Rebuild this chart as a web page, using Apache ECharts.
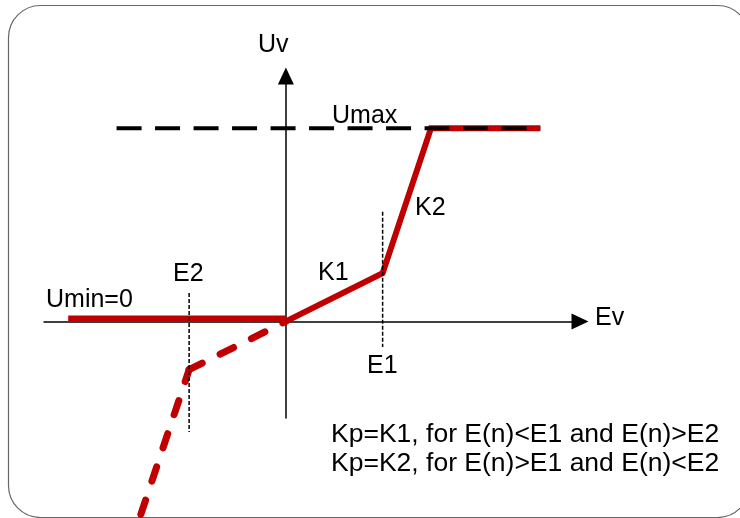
<!DOCTYPE html>
<html>
<head>
<meta charset="utf-8">
<script src="https://cdn.jsdelivr.net/npm/echarts@6/dist/echarts.min.js"></script>
<style>
  html, body { margin: 0; padding: 0; background: #fff; }
  #chart { width: 740px; height: 518px; }
</style>
</head>
<body>
<div id="chart"></div>
<script>
  // curve points, x in Ev units (E1 = 2), y in Uv units
  var uminLine = [[-4.5, 0.06], [0, 0.06]];
  var kLine = [[0, 0], [2, 1], [3, 4], [5.26, 4]];
  var extLine1 = [[0, 0], [-2, -1]];
  var extLine2 = [[-2, -1], [-3, -4]];
  var umaxLine = [[-3.5, 4], [5.26, 4]];
  var e1Line = [[2, 2.27], [2, -0.53]];
  var e2Line = [[-2, 0.59], [-2, -2.29]];

  var labels = ['Uv', 'Umax', 'K2', 'K1', 'E2', 'Umin=0', 'Ev', 'E1'];
  var notes = ['Kp=K1, for E(n)<E1 and E(n)>E2', 'Kp=K2, for E(n)>E1 and E(n)<E2'];

  var RED = '#c00000';
  var FONT = '"Liberation Sans", Arial, sans-serif';

  var labelPos = [[258, 45], [332, 116], [415, 208], [318, 273], [173, 274], [46, 300], [595, 318], [367, 366]];
  var notePos = [[331, 435], [331, 464]];

  var graphic = [{
    type: 'rect',
    shape: { x: 8.5, y: 5.5, width: 741, height: 512, r: 32 },
    style: { fill: 'none', stroke: '#666', lineWidth: 1.2 },
    silent: true
  }];
  labels.forEach(function (t, i) {
    graphic.push({
      type: 'text', x: labelPos[i][0], y: labelPos[i][1],
      style: { text: t, font: '25px ' + FONT, fill: '#000', textAlign: 'left', textVerticalAlign: 'middle' }
    });
  });
  notes.forEach(function (t, i) {
    graphic.push({
      type: 'text', x: notePos[i][0], y: notePos[i][1],
      style: { text: t, font: '26.5px ' + FONT, fill: '#000', textAlign: 'left', textVerticalAlign: 'middle' }
    });
  });

  var axisCommon = {
    type: 'value',
    axisLine: {
      show: true, onZero: true,
      symbol: ['none', 'triangle'], symbolSize: [16, 17],
      lineStyle: { color: '#000', width: 1.5 }
    },
    axisTick: { show: false },
    axisLabel: { show: false },
    splitLine: { show: false }
  };

  var chart = echarts.init(document.getElementById('chart'));
  chart.setOption({
    animation: false,
    grid: { left: 44, right: 160, top: 76, bottom: 100 },
    xAxis: Object.assign({}, axisCommon, { min: -5, max: 6.08 }),
    yAxis: Object.assign({}, axisCommon, { min: -2, max: 5.08 }),
    graphic: graphic,
    series: [
      {
        type: 'line', data: extLine1, symbol: 'none', clip: false, z: 3,
        lineStyle: { color: RED, width: 7, type: [15, 20], dashOffset: 11.5, cap: 'round' }
      },
      {
        type: 'line', data: extLine2, symbol: 'none', clip: false, z: 3,
        lineStyle: { color: RED, width: 7, type: [15, 20], dashOffset: 2.5, cap: 'round' }
      },
      {
        type: 'line', data: uminLine, symbol: 'none', z: 3,
        lineStyle: { color: RED, width: 6 }
      },
      {
        type: 'line', data: kLine, symbol: 'none', z: 3,
        lineStyle: { color: RED, width: 6, join: 'miter' }
      },
      {
        type: 'line', data: umaxLine, symbol: 'none', z: 5,
        lineStyle: { color: '#000', width: 4, type: [25, 13.5] }
      },
      {
        type: 'line', data: e1Line, symbol: 'none', clip: false, z: 4,
        lineStyle: { color: '#000', width: 1.5, type: [4, 2] }
      },
      {
        type: 'line', data: e2Line, symbol: 'none', clip: false, z: 4,
        lineStyle: { color: '#000', width: 1.5, type: [4, 2] }
      }
    ]
  });
</script>
</body>
</html>
